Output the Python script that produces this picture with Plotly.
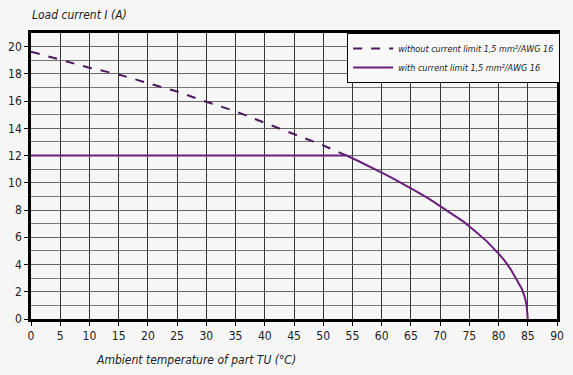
import plotly.graph_objects as go

# Data
temp_without = [0, 5, 10, 15, 20, 25, 30, 35, 40, 45, 50, 54]
current_without = [19.63, 19.05, 18.45, 17.95, 17.35, 16.7, 15.95, 15.25, 14.4, 13.6, 12.75, 12.0]

temp_with = [0, 54, 56, 58, 60, 62, 64, 66, 68, 70, 72, 74, 76, 78, 80, 81, 82, 83, 84, 84.5, 84.8, 85]
current_with = [12.0, 12.0, 11.6, 11.2, 10.75, 10.3, 9.85, 9.35, 8.85, 8.3, 7.75, 7.15, 6.45, 5.7, 4.8,
                4.3, 3.7, 3.0, 2.2, 1.6, 1.0, 0.0]

x_ticks = list(range(0, 95, 5))
y_ticks = list(range(0, 22, 2))

label_without = "without current limit 1,5 mm²/AWG 16"
label_with = "with current limit 1,5 mm²/AWG 16"

FONT = "DejaVu Sans Condensed, Roboto, sans-serif"

fig = go.Figure()
fig.add_trace(go.Scatter(
    x=temp_without, y=current_without, mode="lines",
    name="<i>" + label_without + "</i>",
    line=dict(color="#4a1a5c", width=2, dash="dash"),
))
fig.add_trace(go.Scatter(
    x=temp_with, y=current_with, mode="lines",
    name="<i>" + label_with + "</i>",
    line=dict(color="#6a1f7c", width=2),
))

fig.update_layout(
    width=573, height=375,
    margin=dict(l=31, r=16, t=33, b=56),
    paper_bgcolor="#f6f6f6", plot_bgcolor="#f6f6f6",
    font=dict(family=FONT, size=12, color="#222"),
    showlegend=True,
    legend=dict(
        x=1.006, xanchor="right", y=1, yanchor="top",
        bgcolor="#f8f8f8", bordercolor="#000", borderwidth=1,
        font=dict(size=9, family=FONT, color="#222"),
        tracegroupgap=0, itemwidth=40,
    ),
    xaxis=dict(
        range=[0, 90], tickvals=x_ticks, ticktext=[str(v) for v in x_ticks],
        showgrid=True, gridcolor="#333", gridwidth=1,
        showline=True, linecolor="#000", linewidth=2.5, mirror=True,
        ticks="outside", ticklen=4, tickcolor="#000", zeroline=False,
        tickfont=dict(size=12), automargin=False,
    ),
    yaxis=dict(
        range=[0, 21], tickvals=y_ticks, ticktext=[str(v) for v in y_ticks],
        showgrid=True, gridcolor="#666", gridwidth=1,
        minor=dict(dtick=1, showgrid=True, gridcolor="#777", gridwidth=1),
        showline=True, linecolor="#000", linewidth=2.5, mirror=True,
        ticks="outside", ticklen=4, tickcolor="#000", zeroline=False,
        tickfont=dict(size=12), automargin=False,
    ),
    annotations=[
        dict(text="<i>Load current I (A)</i>", xref="paper", yref="paper",
             x=0, y=1, xshift=-1, yshift=18, xanchor="left", yanchor="middle",
             showarrow=False, font=dict(size=12, family=FONT, color="#222")),
        dict(text="<i>Ambient temperature of part TU (°C)</i>", xref="paper", yref="paper",
             x=(196 - 31) / 526, y=0, yshift=-41, xanchor="center", yanchor="middle",
             showarrow=False, font=dict(size=12, family=FONT, color="#222")),
    ],
)

fig.write_html("out.html",
               config={"displayModeBar": False},
               post_script="document.body.style.margin='0';document.body.style.background='#f6f6f6';")
